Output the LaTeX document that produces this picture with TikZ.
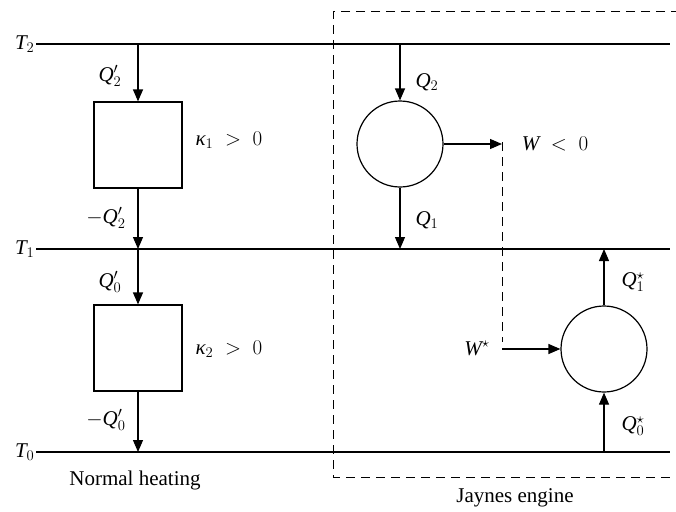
\RequirePackage{fix-cm}
\documentclass[tikz,border=0pt]{standalone}
\usepackage{fontspec}
\setmainfont{Liberation Serif}
\usetikzlibrary{arrows.meta}
\newcommand{\mQ}{\mathit{Q}}
\newcommand{\mT}{\mathit{T}}
\newcommand{\mW}{\mathit{W}}
\newcommand{\mk}{\mbox{\itshape κ}}
\begin{document}
\begin{tikzpicture}[x=1pt,y=-1pt,
  line width=1.2pt,
  arr/.style={-{Triangle[length=12pt,width=10pt]}},
  dsh/.style={dash pattern=on 9pt off 6pt, line width=1pt},
  boxnode/.style={draw, minimum width=88pt, minimum height=86pt, inner sep=0pt},
  eng/.style={draw, circle, minimum size=86pt, inner sep=0pt},
  lab/.style={font=\fontsize{21}{23}\selectfont, inner sep=1pt},
  txt/.style={font=\fontsize{21}{24}\selectfont, inner sep=0pt}]
\useasboundingbox (0,0) rectangle (676,511);
% reservoirs
\coordinate (T2a) at (36,44); \coordinate (T2b) at (670,44);
\coordinate (T1a) at (36,249); \coordinate (T1b) at (670,249);
\coordinate (T0a) at (36,452); \coordinate (T0b) at (670,452);
\draw (T2a) -- (T2b);
\draw (T1a) -- (T1b);
\draw (T0a) -- (T0b);
\node[lab, anchor=east] at (T2a) {$\mT_2$};
\node[lab, anchor=east] at (T1a) {$\mT_1$};
\node[lab, anchor=east] at (T0a) {$\mT_0$};
% dashed Jaynes engine frame
\draw[dsh] (680,12) -- (333,12) -- (333,477) -- (680,477);
% normal heating
\node[boxnode] (b1) at (138,145) {};
\node[boxnode] (b2) at (138,348) {};
\coordinate (n1) at (138,44);
\coordinate (n2) at (138,249);
\coordinate (n3) at (138,452);
\draw[arr] (n1) -- (b1.north);
\draw[arr] (b1.south) -- (n2);
\draw[arr] (n2) -- (b2.north);
\draw[arr] (b2.south) -- (n3);
\node[lab] at (110,76) {$\mQ'_2$};
\node[lab] at (106,218) {$-\mQ'_2$};
\node[lab] at (110,282) {$\mQ'_0$};
\node[lab] at (106,420) {$-\mQ'_0$};
\node[lab] at (229,140) {$\mk_1\;>\;0$};
\node[lab] at (229,349) {$\mk_2\;>\;0$};
\node[txt] at (135,480) {Normal heating};
% Jaynes engine
\node[eng] (c1) at (400,144) {};
\node[eng] (c2) at (604,349) {};
\coordinate (j1) at (400,44);
\coordinate (j2) at (400,249);
\coordinate (w1) at (502,144);
\coordinate (w2) at (502,342);
\coordinate (w3) at (502,349);
\coordinate (k1) at (604,249);
\coordinate (k0) at (604,452);
\draw[arr] (j1) -- (c1.north);
\draw[arr] (c1.south) -- (j2);
\draw[arr] (c1.east) -- (w1);
\draw[dsh] ([yshift=2pt]w1) -- (w2);
\draw[arr] (w3) -- (c2.west);
\draw[arr] (c2.north) -- (k1);
\draw[arr] (k0) -- (c2.south);
\node[lab] at (427,82) {$\mQ_2$};
\node[lab] at (427,220) {$\mQ_1$};
\node[lab] at (555,144) {$\mW\;<\;0$};
\node[lab] at (477,348) {$\mW^\star$};
\node[lab] at (633,282) {$\mQ_1^\star$};
\node[lab] at (633,426) {$\mQ_0^\star$};
\node[txt] at (515,498) {Jaynes engine};
\end{tikzpicture}
\end{document}
